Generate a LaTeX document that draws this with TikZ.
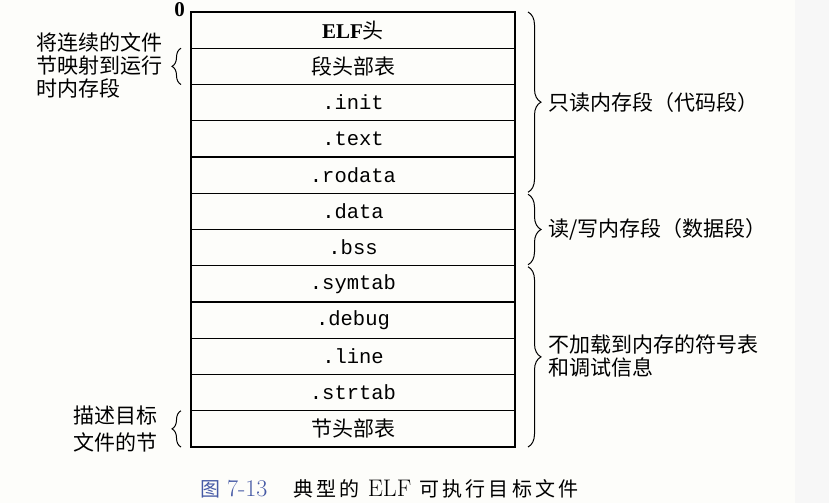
\documentclass[tikz,border=0pt]{standalone}
\usepackage{fontspec}
\setmonofont{Liberation Mono}
\newfontfamily\cjk{Noto Sans CJK SC}
\newfontfamily\cjkcap[LetterSpace=16]{Noto Sans CJK SC}
\newfontfamily\elfserif{Liberation Serif}
\usetikzlibrary{positioning, calc, decorations.pathreplacing}

\definecolor{paper}{RGB}{253,253,250}
\definecolor{strip}{RGB}{247,247,247}
\definecolor{capblue}{RGB}{70,90,165}

\begin{document}
\begin{tikzpicture}[
  x=1pt, y=-1pt,
  node distance=0pt,
  sect/.style={draw, line width=1.2pt, minimum width=324pt, minimum height=36.25pt,
               inner sep=0pt, outer sep=0pt, font=\ttfamily\fontsize{20.5}{22}\selectfont},
  cjksect/.style={sect, font=\cjk\fontsize{21}{23}\selectfont},
  lbl/.style={inner sep=0pt, align=left, font=\cjk\fontsize{21}{23}\selectfont},
  brace/.style={decorate, decoration={brace, amplitude=#1}, line width=1pt}
]
\useasboundingbox (0,0) rectangle (829,503);
\fill[paper] (0,0) rectangle (795,503);
\fill[strip] (795,0) rectangle (829,503);

% the file image, one row per section
\node[cjksect, anchor=north] (elfhdr) at (353,12) {{\elfserif\bfseries ELF}头};
\node[cjksect, below=of elfhdr] (seghdr) {段头部表};
\node[sect, below=of seghdr] (init) {.init};
\node[sect, below=of init] (text) {.text};
\node[sect, below=of text] (rodata) {.rodata};
\node[sect, below=of rodata] (data) {.data};
\node[sect, below=of data] (bss) {.bss};
\node[sect, below=of bss] (symtab) {.symtab};
\node[sect, below=of symtab] (debug) {.debug};
\node[sect, below=of debug] (line) {.line};
\node[sect, below=of line] (strtab) {.strtab};
\node[cjksect, below=of strtab] (sechdr) {节头部表};

\node[font=\elfserif\bfseries\fontsize{21}{21}\selectfont, anchor=east, inner sep=0pt]
  (zero) at ([xshift=-6pt, yshift=2pt]elfhdr.north west) {0};

% right-hand braces
\draw[brace=13pt] ([xshift=13pt]elfhdr.north east) -- ([xshift=13pt, yshift=1pt]rodata.south east);
\draw[brace=13pt] ([xshift=13pt, yshift=-1pt]data.north east) -- ([xshift=13pt, yshift=1pt]bss.south east);
\draw[brace=13pt] ([xshift=13pt, yshift=-1pt]symtab.north east) -- ([xshift=13pt]sechdr.south east);

\node[lbl, anchor=west] (rolbl) at ($(elfhdr.north east)!0.5!(rodata.south east)+(33,0)$) {只读内存段（代码段）};
\node[lbl, anchor=west] (rwlbl) at ($(data.north east)!0.5!(bss.south east)+(33,0)$) {读/写内存段（数据段）};
\node[lbl, anchor=west] (nolbl) at ($(symtab.north east)!0.5!(sechdr.south east)+(33,0)$) {不加载到内存的符号表\\和调试信息};

% left-hand braces
\draw[brace=9pt] ([xshift=-10pt]seghdr.south west) -- ([xshift=-10pt]seghdr.north west);
\draw[brace=9pt] ([xshift=-10pt]sechdr.south west) -- ([xshift=-10pt]sechdr.north west);

\node[lbl, anchor=east] (maplbl) at ([xshift=-28pt, yshift=1pt]seghdr.west) {将连续的文件\\节映射到运行\\时内存段};
\node[lbl, anchor=east, font=\cjk\fontsize{21}{27}\selectfont] (desclbl) at ([xshift=-33pt]sechdr.west) {描述目标\\文件的节};

% caption
\node[inner sep=0pt, anchor=west, font=\fontsize{24}{26}\selectfont] (caption) at (200,489)
  {\textcolor{capblue}{{\cjkcap\fontsize{20}{22}\selectfont 图}\hspace{7pt}7-13}\hspace{26pt}{\cjkcap\fontsize{20}{22}\selectfont 典型的}\hspace{8pt}ELF\hspace{8pt}{\cjkcap\fontsize{20}{22}\selectfont 可执行目标文件}};
\end{tikzpicture}
\end{document}
